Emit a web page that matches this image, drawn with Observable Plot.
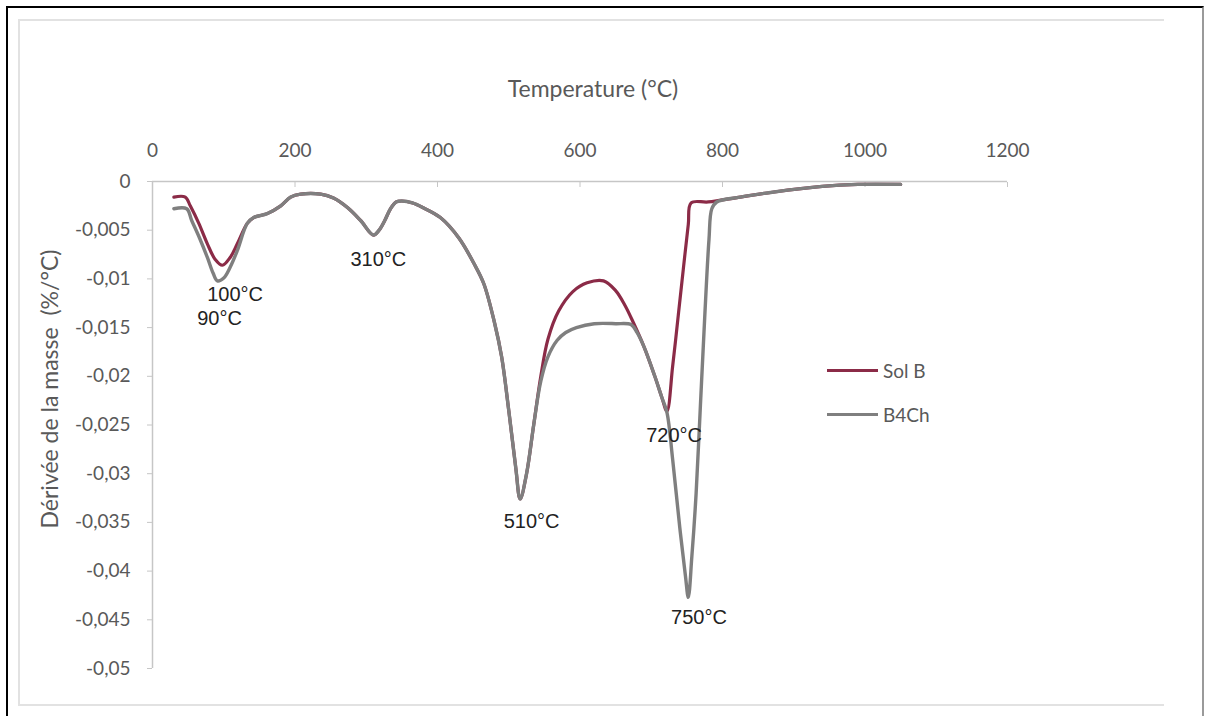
<!DOCTYPE html>
<html>
<head>
<meta charset="utf-8">
<script src="https://cdn.jsdelivr.net/npm/d3@7"></script>
<script src="https://cdn.jsdelivr.net/npm/@observablehq/plot@0.6"></script>
<style>
  html, body { margin: 0; padding: 0; background: #fff; }
  #wrap { position: relative; width: 1208px; height: 716px; background: #fff; overflow: hidden; }
  #wrap svg.plot { position: absolute; left: 0; top: 0; }
  .abs { position: absolute; }
  .t { font-family: Lato, sans-serif; color: #595959; white-space: pre; }
</style>
</head>
<body>
<div id="wrap">
  <div class="abs" style="left:6px;top:6px;width:1194px;height:720px;border-left:2px solid #000;border-top:2px solid #000;border-right:2px solid #9a9a9a;"></div>
  <div class="abs" style="left:18px;top:19px;width:1144px;height:683px;border-left:2px solid #e2e2e2;border-top:2px solid #e2e2e2;border-bottom:2px solid #e2e2e2;"></div>
</div>
<script>
// ---- data ----
const xTicks = [0, 200, 400, 600, 800, 1000, 1200];
const yTicks = [0, -0.005, -0.01, -0.015, -0.02, -0.025, -0.03, -0.035, -0.04, -0.045, -0.05];

const solB_T = [30, 46, 53, 65, 77, 88, 98, 109, 119, 133, 142, 161, 180, 194, 208, 236, 254, 274, 292, 310, 318, 326, 334, 342, 350, 365, 380, 404, 430, 451, 465, 480, 490, 500, 510, 516, 525, 535, 545, 555, 570, 590, 610, 633, 650, 663, 675, 690, 705, 715, 722, 730, 738, 745, 752, 756, 780, 825, 870, 940, 990, 1050];
const solB_D = [-0.0016, -0.0016, -0.0025, -0.0043, -0.0064, -0.0080, -0.0086, -0.0078, -0.0064, -0.0043, -0.0037, -0.0033, -0.0025, -0.0016, -0.0013, -0.0013, -0.0017, -0.0027, -0.0040, -0.0055, -0.0050, -0.0040, -0.0028, -0.0021, -0.0020, -0.0022, -0.0027, -0.0037, -0.0058, -0.0084, -0.0105, -0.0145, -0.0180, -0.0235, -0.0295, -0.0326, -0.0300, -0.0250, -0.0200, -0.0162, -0.0133, -0.0113, -0.0104, -0.0102, -0.0112, -0.0127, -0.0145, -0.0170, -0.0200, -0.0222, -0.0236, -0.0190, -0.0137, -0.0090, -0.0044, -0.0022, -0.0021, -0.0016, -0.0011, -0.0005, -0.0003, -0.0003];

const b4ch_T = [30, 48, 55, 66, 77, 85, 91, 100, 109, 119, 133, 142, 161, 180, 194, 208, 236, 254, 274, 292, 310, 318, 326, 334, 342, 350, 365, 380, 404, 430, 451, 465, 480, 490, 500, 510, 516, 525, 535, 545, 555, 568, 580, 595, 620, 650, 672, 680, 690, 705, 715, 722, 730, 740, 748, 752, 757, 763, 769, 775, 781, 785, 792, 825, 870, 940, 990, 1050];
const b4ch_D = [-0.0028, -0.0028, -0.0040, -0.0058, -0.0078, -0.0094, -0.0102, -0.0099, -0.0088, -0.0071, -0.0043, -0.0037, -0.0033, -0.0025, -0.0016, -0.0013, -0.0013, -0.0017, -0.0027, -0.0040, -0.0055, -0.0050, -0.0040, -0.0028, -0.0021, -0.0020, -0.0022, -0.0027, -0.0037, -0.0058, -0.0084, -0.0105, -0.0145, -0.0180, -0.0235, -0.0295, -0.0326, -0.0300, -0.0250, -0.0205, -0.0180, -0.0163, -0.0155, -0.0150, -0.0146, -0.0146, -0.0147, -0.0155, -0.0170, -0.0200, -0.0222, -0.0237, -0.0285, -0.0355, -0.0405, -0.0427, -0.0385, -0.0320, -0.0230, -0.0140, -0.0060, -0.0028, -0.0021, -0.0016, -0.0011, -0.0005, -0.0003, -0.0003];

const peakLabels = ["100°C", "90°C", "310°C", "510°C", "720°C", "750°C"];
const peakLabelT = [116, 94, 317, 532, 732, 767];
const peakLabelD = [-0.0116, -0.0141, -0.0080, -0.0349, -0.0261, -0.0448];

const seriesNames = ["Sol B", "B4Ch"];
const seriesColors = ["#8b2b47", "#7f7f7f"];
const xTitle = "Temperature (°C)";
const yTitle = "Dérivée de la masse  (%/°C)";

// ---- build tables ----
const solB = solB_T.map((t, i) => ({t, d: solB_D[i]}));
const b4ch = b4ch_T.map((t, i) => ({t, d: b4ch_D[i]}));
const peaks = peakLabels.map((label, i) => ({label, t: peakLabelT[i], d: peakLabelD[i]}));

const fmt = d => d === 0 ? "0" : String(d).replace(".", ",");

const chart = Plot.plot({
  width: 1208,
  height: 716,
  marginLeft: 152,
  marginRight: 201,
  marginTop: 181,
  marginBottom: 48,
  x: {domain: [0, 1200]},
  y: {domain: [-0.05, 0]},
  style: {fontFamily: "Lato, sans-serif", fontSize: "19px", color: "#595959", background: "transparent"},
  marks: [
    Plot.ruleY([0], {stroke: "#c6c6c6", strokeWidth: 1.5}),
    Plot.ruleX([0], {stroke: "#c6c6c6", strokeWidth: 1.5}),
    Plot.axisX({anchor: "top", ticks: xTicks, tickSize: 5, dy: 5, fill: "none", stroke: "#c6c6c6", label: null}),
    Plot.axisX({anchor: "top", ticks: xTicks, tickSize: 0, tickPadding: 25, fill: "#595959", label: null, tickFormat: d => String(d)}),
    Plot.axisY({anchor: "left", ticks: yTicks, tickSize: 5, tickPadding: 17, stroke: "#c6c6c6", fill: "#595959", label: null, tickFormat: fmt}),
    Plot.line(solB, {x: "t", y: "d", stroke: seriesColors[0], strokeWidth: 3.2, curve: "catmull-rom"}),
    Plot.line(b4ch, {x: "t", y: "d", stroke: seriesColors[1], strokeWidth: 3.4, curve: "catmull-rom"}),
    Plot.text(peaks, {x: "t", y: "d", text: "label", fontFamily: "'Liberation Sans', Arial, sans-serif", fontSize: 20, fill: "#222"})
  ]
});
chart.classList.add("plot");
const wrap = document.getElementById("wrap");
wrap.appendChild(chart);

// titles
const xt = document.createElement("div");
xt.className = "abs t";
xt.style.cssText += "left:593px;top:88px;transform:translate(-50%,-50%);font-size:23px;";
xt.textContent = xTitle;
wrap.appendChild(xt);

const yt = document.createElement("div");
yt.className = "abs t";
yt.style.cssText += "left:49px;top:389px;transform:translate(-50%,-50%) rotate(-90deg);font-size:23px;";
yt.textContent = yTitle;
wrap.appendChild(yt);

// legend
const legendY = [370, 414];
seriesNames.forEach((name, i) => {
  const ln = document.createElement("div");
  ln.className = "abs";
  ln.style.cssText = `left:827px;top:${legendY[i] - 1.5}px;width:51px;height:3px;background:${seriesColors[i]};`;
  wrap.appendChild(ln);
  const tx = document.createElement("div");
  tx.className = "abs t";
  tx.style.cssText += `left:883px;top:${legendY[i]}px;transform:translateY(-50%);font-size:19px;`;
  tx.textContent = name;
  wrap.appendChild(tx);
});
</script>
</body>
</html>
